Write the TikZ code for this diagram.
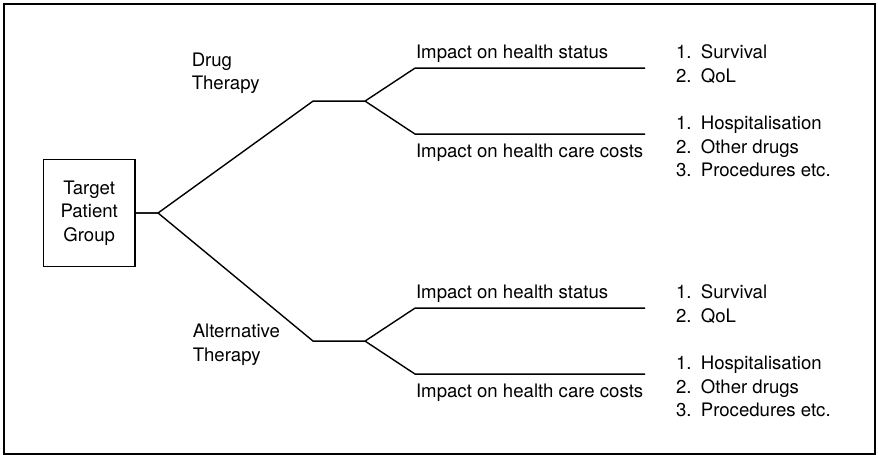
\documentclass[tikz,border=0pt]{standalone}
\usepackage{fontspec}
\setmainfont{TeX Gyre Heros}
\usetikzlibrary{positioning}

\begin{document}
\begin{tikzpicture}[grow'=right, line width=0.7pt,
    every node/.style = {font=\fontsize{9.3pt}{11.7pt}\selectfont, inner sep=0pt, outer sep=0pt, align=left},
    patient/.style = {draw, align=center, minimum width=45.85pt, minimum height=53.7pt},
    fork/.style = {minimum width=26pt, minimum height=0pt},
    leaf/.style = {minimum width=115pt, minimum height=0pt},
    level 1/.style = {growth parent anchor=-10.76, level distance=102pt, sibling distance=120pt,
      edge from parent path={(\tikzparentnode.east) -- ++(11.5pt,0) -- (\tikzchildnode.west) -- (\tikzchildnode.east)}},
    level 2/.style = {growth parent anchor=center, level distance=95.5pt, sibling distance=33pt,
      edge from parent path={(\tikzparentnode.east) -- (\tikzchildnode.west) -- (\tikzchildnode.east)}}]
  \useasboundingbox (0,0) rectangle (439pt,227.5pt);
  \draw (2pt,0.5pt) rectangle (437.5pt,225.5pt);

  \node[patient] (tpg) at (44.6pt,121pt) {Target\\Patient\\Group}
    child {node[fork] (drug) {}
      child {node[leaf] (drug-status) {}}
      child {node[leaf] (drug-costs) {}}
    }
    child {node[fork] (alt) {}
      child {node[leaf] (alt-status) {}}
      child {node[leaf] (alt-costs) {}}
    };

  \node[anchor=north west] (drug-txt) at ([shift={(-60.65pt,24.2pt)}]drug.west) {Drug\\Therapy};
  \node[anchor=north west] (alt-txt) at ([shift={(-60.15pt,8.35pt)}]alt.west) {Alternative\\Therapy};

  \foreach \br in {drug,alt} {
    \node[above right=3pt and 0.5pt of \br-status.west] (\br-status-txt) {Impact on health status};
    \node[below right=5pt and 0.5pt of \br-costs.west] (\br-costs-txt) {Impact on health care costs};
    \node[anchor=north west] (\br-status-list) at ([shift={(15.5pt,11.5pt)}]\br-status.east)
      {1.\enspace Survival\\2.\enspace QoL};
    \node[anchor=north west] (\br-costs-list) at ([shift={(15.5pt,9pt)}]\br-costs.east)
      {1.\enspace Hospitalisation\\2.\enspace Other drugs\\3.\enspace Procedures etc.};
  }
\end{tikzpicture}
\end{document}
